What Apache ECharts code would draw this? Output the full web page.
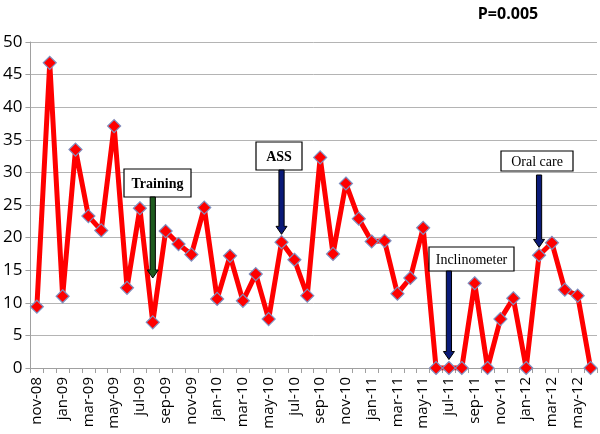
<!DOCTYPE html>
<html>
<head>
<meta charset="utf-8">
<script src="https://cdn.jsdelivr.net/npm/echarts@6/dist/echarts.min.js"></script>
<style>html,body{margin:0;padding:0;background:#fff}#c{width:600px;height:434px}</style>
</head>
<body>
<div id="c"></div>
<script>
var months = ['nov-08','dec-08','jan-09','feb-09','mar-09','apr-09','may-09','jun-09','jul-09','aug-09','sep-09','oct-09','nov-09','dec-09',
 'jan-10','feb-10','mar-10','apr-10','may-10','jun-10','jul-10','aug-10','sep-10','oct-10','nov-10','dec-10',
 'jan-11','feb-11','mar-11','apr-11','may-11','jun-11','jul-11','aug-11','sep-11','oct-11','nov-11','dec-11',
 'jan-12','feb-12','mar-12','apr-12','may-12','jun-12'];
var values = [9.4,46.8,11.0,33.5,23.3,21.1,37.1,12.3,24.5,7.0,21.0,19.0,17.4,24.6,
 10.6,17.2,10.3,14.4,7.5,19.3,16.6,11.1,32.3,17.5,28.3,22.9,
 19.4,19.5,11.4,13.8,21.5,0,0,0,13.0,0,7.5,10.7,
 0,17.3,19.2,12.0,11.1,0];
var yTicks = [0,5,10,15,20,25,30,35,40,45,50];
var annotations = [
 {label:'Training', month:'aug-09', endValue:13.8, color:'#1e5b1e', bold:true, box:[124,169,67,28], arrowTop:197},
 {label:'ASS', month:'jun-10', endValue:20.5, color:'#0a1a78', bold:true, box:[256,142,46,28], arrowTop:170},
 {label:'Inclinometer', month:'jul-11', endValue:1.3, color:'#0a1a78', bold:false, box:[429,247,85,24], arrowTop:271},
 {label:'Oral care', month:'feb-12', endValue:18.5, color:'#0a1a78', bold:false, box:[501,151,72,20], arrowTop:175}
];

var chart = echarts.init(document.getElementById('c'));
chart.setOption({
  animation:false,
  title:{text:'P=0.005', left:503, top:1, textAlign:'center',
    textStyle:{fontFamily:'Open Sans', fontWeight:'bold', fontSize:16, color:'#000'}},
  grid:{left:30, right:3, top:42, bottom:66},
  xAxis:{type:'category', data:months, boundaryGap:true,
    axisLine:{lineStyle:{color:'#a0a0a0'}},
    axisTick:{show:true, interval:0, length:5, lineStyle:{color:'#a0a0a0'}},
    axisLabel:{interval:1, rotate:90, margin:9, fontFamily:'Open Sans', fontSize:15, color:'#000'}},
  yAxis:{type:'value', min:0, max:50, interval:5,
    axisLine:{show:true, lineStyle:{color:'#a0a0a0'}},
    axisTick:{show:true, length:5, lineStyle:{color:'#a0a0a0'}},
    splitLine:{lineStyle:{color:'#b4b4b4', width:1}},
    axisLabel:{margin:8, fontFamily:'Open Sans', fontSize:17, color:'#000',
      formatter:function(v){return yTicks.indexOf(v)>=0?String(v):'';}}},
  series:[{type:'line', data:values, lineStyle:{color:'#ff0000', width:5},
    symbol:'diamond', symbolSize:13, showAllSymbol:true,
    itemStyle:{color:'#ff0000', borderColor:'#7f8fc0', borderWidth:1.2}}]
});

var g = [];
annotations.forEach(function(a){
  var x = chart.convertToPixel({xAxisIndex:0}, a.month);
  var yEnd = chart.convertToPixel({yAxisIndex:0}, a.endValue);
  var b = a.box;
  g.push({type:'rect', shape:{x:b[0], y:b[1], width:b[2], height:b[3]},
    style:{fill:'#fff', stroke:'#000', lineWidth:1.2}, z:10});
  g.push({type:'text', x:b[0]+b[2]/2, y:b[1]+b[3]/2+1, z:11,
    style:{text:a.label, fill:'#000', font:(a.bold?'bold ':'')+'14px "Liberation Serif"', align:'center', verticalAlign:'middle'}});
  var sw = 2.6, hw = 5.5, hh = 8, top = a.arrowTop;
  g.push({type:'polygon', z:10, shape:{points:[
      [x-sw, top],[x+sw, top],[x+sw, yEnd-hh],[x+hw, yEnd-hh],[x, yEnd],[x-hw, yEnd-hh],[x-sw, yEnd-hh]]},
    style:{fill:a.color, stroke:'#000', lineWidth:1}});
});
chart.setOption({graphic:g});
</script>
</body>
</html>
